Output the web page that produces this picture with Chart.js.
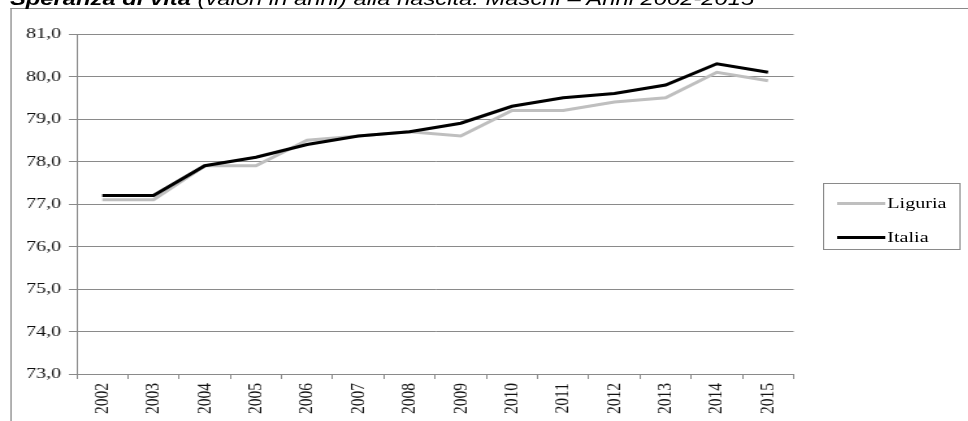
<!DOCTYPE html>
<html>
<head>
<meta charset="utf-8">
<script src="https://cdn.jsdelivr.net/npm/chart.js@4/dist/chart.umd.min.js"></script>
<style>
  html,body{margin:0;padding:0;background:#fff;width:968px;height:421px;overflow:hidden;position:relative}
  /* the source picture is stretched sideways, so the whole figure is drawn narrow and widened */
  #wrap{position:absolute;left:0;top:0;width:745px;height:421px;transform:scaleX(1.3);transform-origin:0 0}
  #title{position:absolute;left:7.7px;top:-10.4px;font-family:"Liberation Sans",Arial,sans-serif;font-size:18.3px;line-height:18.3px;font-style:italic;white-space:nowrap;color:#000;z-index:2}
  #title b{font-weight:bold}
  #frame{position:absolute;left:7.7px;top:8px;width:737px;height:413px;border-left:1px solid #8a8a8a;border-top:1px solid #8a8a8a}
  #frame canvas{position:absolute;left:0;top:0}
  #legend{position:absolute;left:633px;top:183px;width:104px;height:65px;border:1px solid #8a8a8a;font-family:"Liberation Serif","Times New Roman",serif;font-size:15.5px;color:#000}
  .lg-row{position:absolute;left:9.5px;height:18px;display:flex;align-items:center}
  .lg-line{width:37px;height:3px;margin-right:2px}
</style>
</head>
<body>
<div id="wrap">
  <div id="frame"><canvas id="chart" width="736" height="412"></canvas></div>
  <div id="title"><b>Speranza di vita</b> (valori in anni) alla nascita. Maschi – Anni 2002-2015</div>
  <div id="legend">
    <div class="lg-row" style="top:10px"><div class="lg-line" style="background:#bfbfbf"></div>Liguria</div>
    <div class="lg-row" style="top:44px"><div class="lg-line" style="background:#000"></div>Italia</div>
  </div>
</div>
<script>
// ── data ─────────────────────────────────────────────
const years=['2002','2003','2004','2005','2006','2007','2008','2009','2010','2011','2012','2013','2014','2015'];
const liguria=[77.1,77.1,77.9,77.9,78.5,78.6,78.7,78.6,79.2,79.2,79.4,79.5,80.1,79.9];
const italia=[77.2,77.2,77.9,78.1,78.4,78.6,78.7,78.9,79.3,79.5,79.6,79.8,80.3,80.1];
const yMin=73, yMax=81;

const GRID='#8a8a8a';
const serif='"Liberation Serif", "Times New Roman", serif';

new Chart(document.getElementById('chart'),{
  type:'line',
  data:{
    labels:years,
    datasets:[
      {label:'Liguria',data:liguria,borderColor:'#bfbfbf',borderWidth:3,pointRadius:0,tension:0,fill:false,order:1},
      {label:'Italia',data:italia,borderColor:'#000000',borderWidth:3,pointRadius:0,tension:0,fill:false,order:0}
    ]
  },
  options:{
    responsive:false,animation:false,
    layout:{padding:{top:25,right:134.5,left:0,bottom:0}},
    plugins:{legend:{display:false},tooltip:{enabled:false}},
    scales:{
      x:{
        offset:true,
        grid:{offset:true,drawOnChartArea:false,color:GRID,tickLength:5,tickColor:GRID},
        border:{display:true,color:GRID},
        ticks:{font:{family:serif,size:15.5},color:'#111',minRotation:90,maxRotation:90,padding:4,autoSkip:false},
        afterFit:s=>{s.height=47;}
      },
      y:{
        min:yMin,max:yMax,
        grid:{color:GRID,tickLength:6,tickColor:GRID},
        border:{display:true,color:GRID},
        ticks:{stepSize:1,font:{family:serif,size:15.5},color:'#111',padding:6,
          callback:v=>v.toFixed(1).replace('.',',')},
        afterFit:s=>{s.width=50;}
      }
    }
  }
});
</script>
</body>
</html>
